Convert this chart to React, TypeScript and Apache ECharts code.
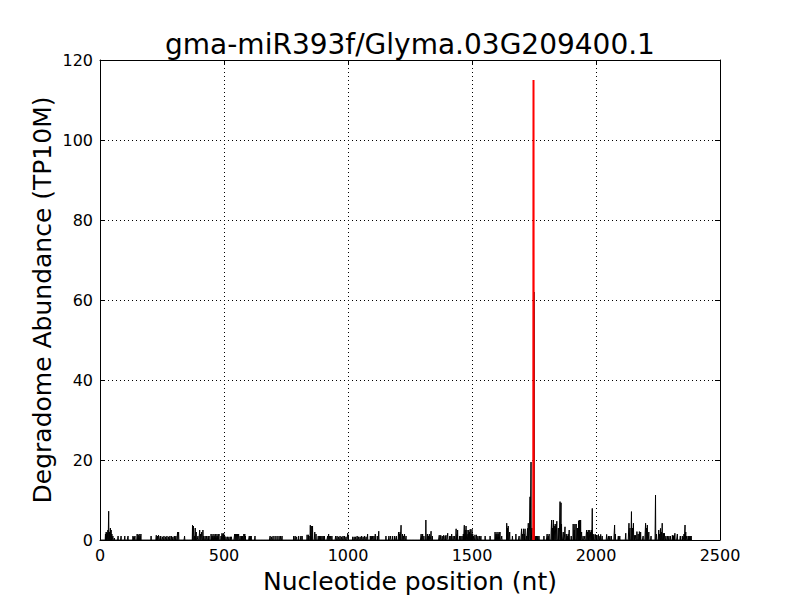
import React, { useEffect, useRef } from "react";
import * as echarts from "echarts";

const titleText = "gma-miR393f/Glyma.03G209400.1";
const xAxisTitle = "Nucleotide position (nt)";
const yAxisTitle = "Degradome Abundance (TP10M)";
const xTicks = [0, 500, 1000, 1500, 2000, 2500];
const yTicks = [0, 20, 40, 60, 80, 100, 120];
const transcriptLength = 2385;

// [position (nt), abundance (TP10M)]
const degradomePeaks: [number, number][] = [
  [22,1.5],[25,2],[28,1.8],[32,2.5],[35,7.2],[38,2],[42,3],[45,2.5],[48,1.5],[52,1],[58,0.5],[73,1],[85,1],[100,1],[113,1],
  [133,1],[137,0.8],[141,1],[150,1.5],[154,1.2],[158,1.5],[162,1],[165,1.5],[206,1],[227,1.2],[232,1],[236,1.2],[243,1],
  [245,1],[252,0.8],[258,1],[264,0.8],[270,1],[276,0.8],[282,1],[288,1],[294,0.8],[300,1],[306,1],[313,2],[317,2],[341,1],
  [373,3.7],[377,3.5],[381,1],[384,3],[388,2],[395,1],[402,2.5],[406,1.5],[410,2],[415,2.5],[418,1],[424,1],[430,1],[436,1],
  [440,1],[448,1.5],[452,1],[456,1.5],[460,1],[464,1.5],[468,1.5],[472,1],[476,1.5],[480,1.5],[488,1],[492,1.7],[496,1.5],
  [499,1.7],[503,1],[508,0.8],[514,0.8],[520,0.8],[526,0.8],[530,0.8],[543,1.5],[547,1.5],[551,1.5],[555,1.5],[559,1.5],
  [565,1],[570,1],[575,1],[580,1.5],[584,1.5],[586,1],[602,1],[606,1],[610,1],[625,1],[686,1],[692,0.8],[698,1],[706,1],
  [714,1],[722,1],[728,1],[734,1],[781,1],[787,1],[793,0.8],[801,1],[810,1],[815,1],[835,1.3],[840,1.3],[843,1],[848,3.7],
  [852,3.5],[857,3.5],[866,2],[871,1.5],[880,1],[885,1],[890,1],[895,1],[900,1],[905,1],[918,1],[922,1.5],[926,1],[930,1],
  [935,1],[950,1],[956,1],[962,0.8],[968,1],[974,0.8],[980,1],[986,1],[992,0.8],[999,1.7],[1019,0.8],[1025,0.8],[1031,0.8],
  [1037,1],[1043,0.8],[1049,0.8],[1055,1],[1061,0.8],[1067,1],[1073,0.8],[1079,1.5],[1090,1],[1096,1],[1100,1],[1105,1],
  [1110,1.5],[1118,1],[1124,2.2],[1153,1],[1165,1],[1172,1],[1180,1],[1188,1],[1195,1],[1204,2],[1208,1.5],[1210,2],
  [1214,3.7],[1220,1.5],[1224,1],[1228,1.5],[1234,1],[1295,1.5],[1298,1],[1301,1.5],[1306,1],[1314,5],[1320,1.5],[1324,1],
  [1328,1.5],[1335,2.2],[1340,1],[1368,1.2],[1374,1.2],[1380,1],[1386,1.2],[1392,1],[1395,1.2],[1402,1.7],[1410,1],
  [1415,1],[1418,1.5],[1424,1],[1430,1],[1436,2.8],[1440,1.5],[1442,2.5],[1450,1],[1455,1],[1460,1],[1465,1.5],[1469,3.7],
  [1473,2.5],[1476,3.5],[1480,2.5],[1484,1.5],[1487,2.5],[1490,2],[1493,2.7],[1497,1.5],[1500,2.7],[1503,1.5],[1506,1],
  [1512,1.3],[1518,1.3],[1524,1],[1530,1],[1536,1],[1553,1],[1573,1],[1593,2],[1597,1.5],[1601,2],[1605,1.5],[1609,2],
  [1613,2],[1620,1],[1640,4.2],[1643,3],[1646,3.5],[1652,2],[1663,1],[1677,1.5],[1690,1],[1700,2.8],[1704,1.5],[1708,2.8],
  [1711,1.5],[1714,2.8],[1720,1],[1724,2.9],[1727,4.2],[1734,10.8],[1738,19.5],[1742,3],[1750,62],[1755,1],[1760,1],
  [1765,1],[1770,1],[1790,1],[1803,1.5],[1807,1],[1811,1.5],[1821,5],[1824,3],[1828,5],[1830,4],[1834,3.5],[1838,4],
  [1842,4.7],[1848,3],[1855,9.6],[1859,9.3],[1861,4],[1868,2],[1875,3.3],[1880,1.5],[1884,1],[1888,1.5],[1892,2.5],
  [1900,1],[1908,4],[1912,2.5],[1915,4],[1920,4],[1925,3],[1930,4.8],[1933,5],[1936,2.5],[1938,5],[1942,2],[1948,1],
  [1955,1],[1962,2.5],[1966,2],[1969,2.5],[1975,2.5],[1979,2],[1982,2.5],[1985,7.9],[1988,1.5],[1992,1.4],[1998,1.4],
  [2004,1.2],[2010,1.4],[2016,1],[2019,1.4],[2025,1],[2043,1.4],[2050,1],[2056,1],[2062,1],[2075,3.75],[2078,1.5],
  [2090,1],[2096,1],[2120,1.7],[2133,4.2],[2137,3],[2143,7.1],[2147,3],[2151,4.2],[2156,1.2],[2160,1.2],[2165,2.1],
  [2170,1.5],[2175,2.1],[2180,2],[2190,1],[2200,4.2],[2204,3],[2207,3.75],[2213,2],[2222,1],[2240,11.25],[2244,1.5],
  [2253,2.5],[2257,1.5],[2260,2.9],[2264,2],[2267,4.2],[2272,1.7],[2276,1.7],[2282,1],[2288,1],[2294,1],[2300,1],
  [2308,1.2],[2312,1],[2315,1.2],[2318,1.7],[2328,1.5],[2340,1],[2348,1],[2355,1.5],[2359,3.75],[2362,2],[2366,1],
  [2372,1],[2376,1],[2380,1],[2384,1],
];

// cleavage site (red)
const cleavageSite: [number, number] = [1748, 115];

export default function App() {
  const ref = useRef<HTMLDivElement>(null);
  useEffect(() => {
    if (!ref.current) return;
    const chart = echarts.init(ref.current, undefined, { renderer: "svg" });
    const abundance: number[] = new Array(transcriptLength + 1).fill(0);
    degradomePeaks.forEach(([p, v]) => {
      abundance[p] = v;
    });
    const blackData = abundance.map((v, i) => [i, v]);
    const redData = [
      [cleavageSite[0] - 1, 0],
      [cleavageSite[0], cleavageSite[1]],
      [cleavageSite[0] + 1, 0],
    ];
    const font = "DejaVu Sans";
    const axisCommon = {
      axisLine: { show: true, onZero: false, lineStyle: { color: "#000", width: 1 } },
      axisTick: { show: true, inside: true, length: 5, lineStyle: { color: "#000", width: 1 } },
    };
    const plain = (v: number) => String(v);
    chart.setOption({
      animation: false,
      backgroundColor: "#fff",
      grid: { left: 100, top: 60, width: 620, height: 480, show: false },
      xAxis: [
        {
          type: "value", min: xTicks[0], max: xTicks[xTicks.length - 1], interval: 500, position: "bottom",
          ...axisCommon,
          axisLabel: { color: "#000", fontSize: 16, fontFamily: font, margin: 7, formatter: plain },
          splitLine: { show: true, lineStyle: { color: "#000", type: [1, 3], width: 1 } },
        },
        {
          type: "value", min: xTicks[0], max: xTicks[xTicks.length - 1], interval: 500, position: "top",
          ...axisCommon,
          axisLabel: { show: false },
          splitLine: { show: false },
        },
      ],
      yAxis: [
        {
          type: "value", min: yTicks[0], max: yTicks[yTicks.length - 1], interval: 20, position: "left",
          ...axisCommon,
          axisLabel: { color: "#000", fontSize: 16, fontFamily: font, margin: 7, formatter: plain },
          splitLine: { show: true, lineStyle: { color: "#000", type: [1, 3], width: 1 } },
        },
        {
          type: "value", min: yTicks[0], max: yTicks[yTicks.length - 1], interval: 20, position: "right",
          ...axisCommon,
          axisLabel: { show: false },
          splitLine: { show: false },
        },
      ],
      graphic: [
        {
          type: "text", x: 410, y: 44,
          style: { text: titleText, fontSize: 28, fontFamily: font, fill: "#000", align: "center", verticalAlign: "middle" },
        },
        {
          type: "text", x: 410, y: 581,
          style: { text: xAxisTitle, fontSize: 25, fontFamily: font, fill: "#000", align: "center", verticalAlign: "middle" },
        },
        {
          type: "text", x: 42, y: 300, rotation: Math.PI / 2,
          style: { text: yAxisTitle, fontSize: 25, fontFamily: font, fill: "#000", align: "center", verticalAlign: "middle" },
        },
      ],
      series: [
        {
          type: "line", data: blackData, xAxisIndex: 0, yAxisIndex: 0, showSymbol: false, symbol: "none",
          silent: true, lineStyle: { color: "#000", width: 1 }, z: 2,
        },
        {
          type: "line", data: redData, xAxisIndex: 0, yAxisIndex: 0, showSymbol: false, symbol: "none",
          silent: true, lineStyle: { color: "#ff0000", width: 2 }, z: 3,
        },
      ],
    });
    return () => chart.dispose();
  }, []);
  return (
    <div
      ref={ref}
      style={{ position: "fixed", left: 0, top: 0, width: 800, height: 600, background: "#fff" }}
    />
  );
}
